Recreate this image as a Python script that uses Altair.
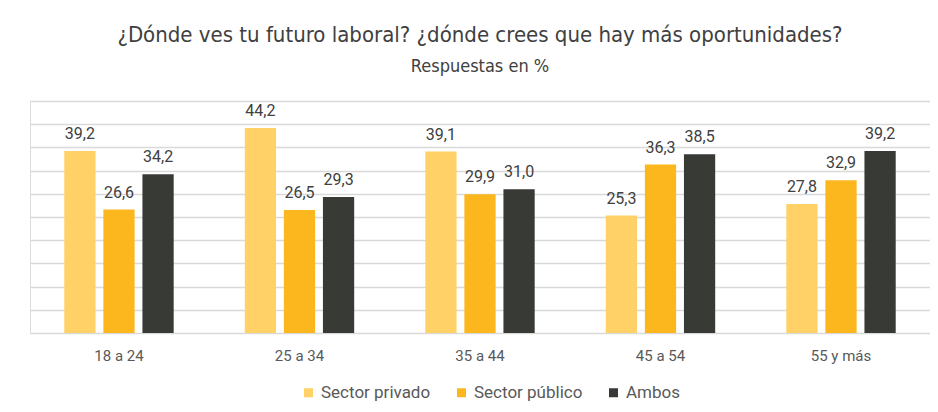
import altair as alt
import pandas as pd

categories = ["18 a 24", "25 a 34", "35 a 44", "45 a 54", "55 y más"]
series = ["Sector privado", "Sector público", "Ambos"]
privado = [39.2, 44.2, 39.1, 25.3, 27.8]
publico = [26.6, 26.5, 29.9, 36.3, 32.9]
ambos = [34.2, 29.3, 31.0, 38.5, 39.2]
colors = ["#FFD166", "#FDB71E", "#383A36"]

rows = []
for i, c in enumerate(categories):
    for s, vals in zip(series, [privado, publico, ambos]):
        rows.append({"edad": c, "serie": s, "valor": vals[i],
                     "etiqueta": f"{vals[i]:.1f}".replace(".", ",")})
df = pd.DataFrame(rows)

x = alt.X("edad:N", sort=categories, title=None,
          scale=alt.Scale(paddingInner=0.394, paddingOuter=0.19),
          axis=alt.Axis(labelAngle=0, ticks=False, domain=False, grid=False,
                        labelPadding=15, labelFont="Roboto", labelFontSize=15,
                        labelColor="#595959"))
xo = alt.XOffset("serie:N", sort=series,
                 scale=alt.Scale(paddingInner=0.2, paddingOuter=0))
y = alt.Y("valor:Q", title=None,
          scale=alt.Scale(domain=[0, 50], nice=False),
          axis=alt.Axis(values=list(range(0, 51, 5)), labels=False, ticks=False,
                        domain=False, grid=True, gridColor="#d9d9d9", gridWidth=1.3))

bars = alt.Chart(df).mark_bar().encode(
    x=x, xOffset=xo, y=y,
    color=alt.Color("serie:N", sort=series, title=None,
                    scale=alt.Scale(domain=series, range=colors),
                    legend=alt.Legend(orient="none", legendX=270, legendY=283,
                                      direction="horizontal", padding=0,
                                      symbolType="square", symbolSize=81,
                                      labelFont="Roboto", labelFontSize=17,
                                      labelColor="#595959", columnPadding=22,
                                      labelOffset=4, symbolStrokeWidth=0)),
)

labels = alt.Chart(df).mark_text(dy=-12, baseline="alphabetic", font="Roboto",
                                 fontSize=16, color="#404040").encode(
    x=x, xOffset=xo, y=y, text="etiqueta:N"
)

chart = alt.layer(bars, labels).properties(
    width=900, height=232,
    title=alt.TitleParams(
        "¿Dónde ves tu futuro laboral? ¿dónde crees que hay más oportunidades?",
        subtitle="Respuestas en %", frame="group",
        font="Liberation Sans Narrow, DejaVu Sans Condensed", fontSize=22,
        fontWeight="normal", color="#404040",
        subtitleFont="Liberation Sans Narrow, DejaVu Sans Condensed",
        subtitleFontSize=18, subtitleColor="#404040", subtitlePadding=11,
        anchor="middle", offset=24),
    autosize=alt.AutoSizeParams(type="none"),
    padding={"left": 22, "top": 93, "right": 0, "bottom": 71},
).configure_view(stroke="transparent", strokeWidth=0).configure_axis(
    domain=False).configure_axisX(grid=False, domain=False).configure_axisY(
    domain=False).configure(background="white")

chart.save("out.html", embed_options={"renderer": "svg", "actions": False})
